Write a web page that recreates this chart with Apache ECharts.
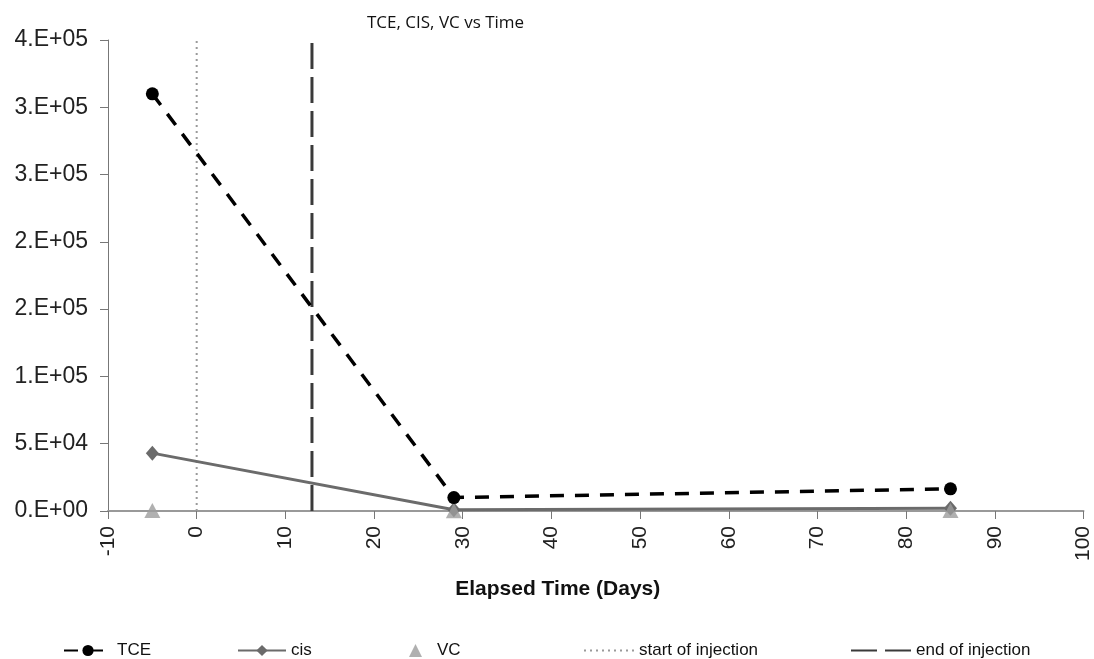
<!DOCTYPE html>
<html>
<head>
<meta charset="utf-8">
<script src="https://cdn.jsdelivr.net/npm/echarts@6/dist/echarts.min.js"></script>
<style>html,body{margin:0;padding:0;background:#fff}#c{width:1094px;height:659px}</style>
</head>
<body>
<div id="c"></div>
<script>
const days = [-5, 29, 85];
const tce = [310000, 10000, 16500];
const cis = [43000, 1000, 2000];
const vc = [300, 200, 300];
const startInjection = 0;
const endInjection = 13;
const yTickLabels = ['0.E+00','5.E+04','1.E+05','2.E+05','2.E+05','3.E+05','3.E+05','4.E+05'];
const yMax = 350000;
const yStep = 50000;

const font = 'Liberation Sans, Arial, sans-serif';
const chart = echarts.init(document.getElementById('c'));
const pairs = (xs, ys) => xs.map((x, i) => [x, ys[i]]);
const legText = { fontFamily: font, fontSize: 17, color: '#111' };

chart.setOption({
  animation: false,
  title: {
    text: 'TCE, CIS, VC vs Time',
    left: 362, top: 10,
    textStyle: { fontFamily: 'Open Sans', fontSize: 17, fontWeight: 'normal', color: '#111' }
  },
  grid: { left: 108, right: 9, top: 40, bottom: 148, containLabel: false },
  xAxis: {
    type: 'value', min: -10, max: 100, interval: 10,
    name: 'Elapsed Time (Days)', nameLocation: 'middle', nameGap: 68,
    nameTextStyle: { fontFamily: font, fontSize: 21, fontWeight: 'bold', color: '#111', padding: [0, 76, 0, 0] },
    axisLine: { show: true, onZero: false, lineStyle: { color: '#999', width: 2 } },
    axisTick: { show: true, length: 8, lineStyle: { color: '#777' } },
    axisLabel: { rotate: 90, margin: 15, fontFamily: font, fontSize: 21, color: '#222' },
    splitLine: { show: false }
  },
  yAxis: {
    type: 'value', min: 0, max: yMax, interval: yStep,
    axisLine: { show: true, onZero: false, lineStyle: { color: '#777', width: 1 } },
    axisTick: { show: true, length: 8, lineStyle: { color: '#777' } },
    axisLabel: { margin: 20, fontFamily: font, fontSize: 23, color: '#222',
      formatter: v => yTickLabels[Math.round(v / yStep)] },
    splitLine: { show: false }
  },
  legend: [
    { data: ['TCE'], left: 63, top: 642, itemWidth: 48, itemHeight: 14, padding: 0, textStyle: legText },
    { data: ['cis'], left: 237, top: 642, itemWidth: 48, itemHeight: 14, padding: 0, textStyle: legText },
    { data: ['VC'], left: 409, top: 642, itemWidth: 13, itemHeight: 13, padding: 0,
      textStyle: Object.assign({ padding: [0, 0, 0, 10] }, legText) },
    { data: ['start of injection'], left: 583, top: 642, itemWidth: 50, itemHeight: 14, padding: 0,
      itemStyle: { opacity: 0 }, textStyle: legText },
    { data: ['end of injection'], left: 850, top: 642, itemWidth: 60, itemHeight: 14, padding: 0,
      itemStyle: { opacity: 0 }, textStyle: legText }
  ],
  series: [
    {
      name: 'start of injection', type: 'line', z: 1,
      data: [[startInjection, 0], [startInjection, yMax]],
      symbol: 'none',
      lineStyle: { color: '#9a9a9a', width: 2, type: [2, 4] },
      itemStyle: { color: '#9a9a9a' }
    },
    {
      name: 'end of injection', type: 'line', z: 1,
      data: [[endInjection, 0], [endInjection, yMax]],
      symbol: 'none',
      lineStyle: { color: '#3a3a3a', width: 3, type: [26, 8] },
      itemStyle: { color: '#3a3a3a' }
    },
    {
      name: 'cis', type: 'line', z: 3,
      data: pairs(days, cis),
      symbol: 'diamond', symbolSize: [13, 15],
      lineStyle: { color: '#6b6b6b', width: 3 },
      itemStyle: { color: '#6b6b6b' }
    },
    {
      name: 'VC', type: 'scatter', z: 4,
      data: pairs(days, vc),
      symbol: 'triangle', symbolSize: [16, 15],
      itemStyle: { color: '#9c9c9c' }
    },
    {
      name: 'TCE', type: 'line', z: 5,
      data: pairs(days, tce),
      symbol: 'circle', symbolSize: 13,
      lineStyle: { color: '#000', width: 3.5, type: [14, 11] },
      itemStyle: { color: '#000' }
    }
  ]
});
</script>
</body>
</html>
